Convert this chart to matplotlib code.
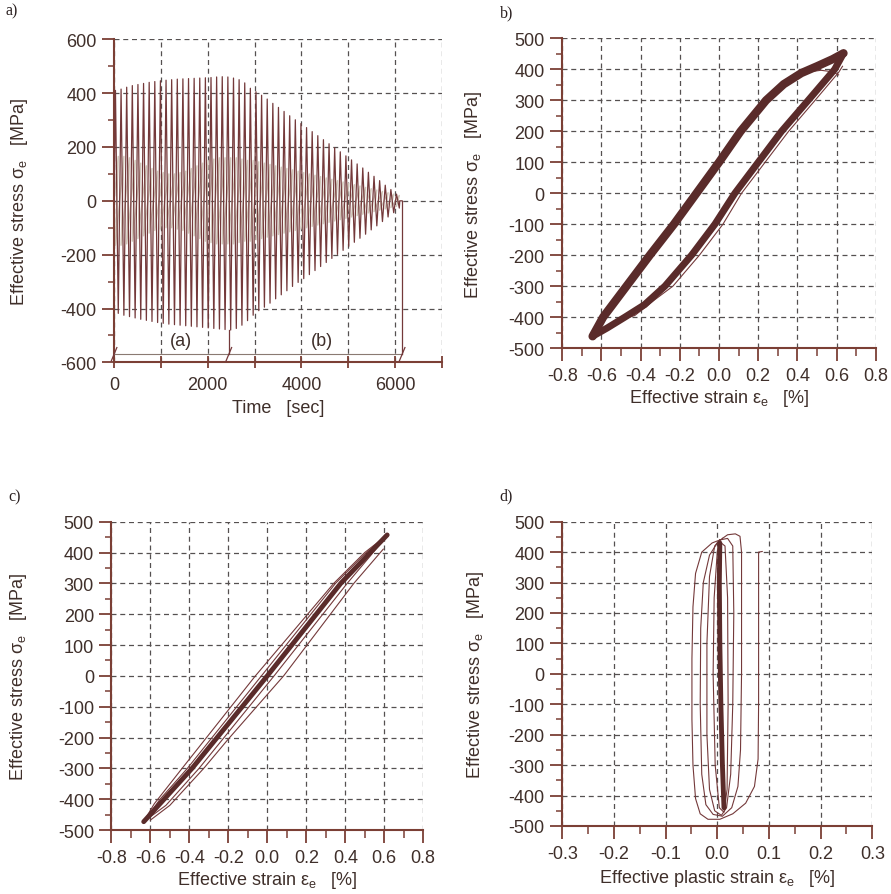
import matplotlib.pyplot as plt
from matplotlib.ticker import MultipleLocator, FuncFormatter

plt.rcParams['font.family'] = ['Liberation Sans', 'DejaVu Sans']
plt.rcParams['axes.unicode_minus'] = False

# ---------------- panel a: stress history (one max and one min per cycle)
peak_time = [30, 150, 270, 390, 510, 630, 750, 870, 990, 1110,
             1230, 1350, 1470, 1590, 1710, 1830, 1950, 2070, 2190, 2310,
             2430, 2550, 2670, 2790, 2910, 3030, 3150, 3270, 3390, 3510,
             3630, 3750, 3870, 3990, 4110, 4230, 4350, 4470, 4590, 4710,
             4830, 4950, 5070, 5190, 5310, 5430, 5550, 5670, 5790, 5910, 6030]
peak_max = [410, 415, 422, 428, 432, 436, 440, 443, 446, 448,
            450, 452, 453, 454, 455, 456, 457, 458, 460, 461,
            460, 456, 450, 438, 418, 405, 392, 378, 362, 347,
            332, 316, 301, 287, 272, 257, 242, 227, 212, 197,
            182, 167, 152, 137, 122, 106, 91, 75, 58, 42, 25]
trough_time = [90, 210, 330, 450, 570, 690, 810, 930, 1050, 1170,
               1290, 1410, 1530, 1650, 1770, 1890, 2010, 2130, 2250, 2370,
               2490, 2610, 2730, 2850, 2970, 3090, 3210, 3330, 3450, 3570,
               3690, 3810, 3930, 4050, 4170, 4290, 4410, 4530, 4650, 4770,
               4890, 5010, 5130, 5250, 5370, 5490, 5610, 5730, 5850, 5970, 6090]
peak_min = [-418, -425, -430, -435, -440, -444, -448, -452, -455, -458,
            -460, -462, -464, -466, -468, -470, -472, -474, -476, -478,
            -480, -474, -462, -445, -425, -408, -395, -380, -364, -349,
            -334, -318, -303, -289, -274, -259, -244, -229, -214, -199,
            -184, -169, -154, -139, -124, -108, -93, -77, -60, -44, -27]
# faint second component seen behind the main signal
inner_amp = [165, 165, 160, 150, 140, 130, 120, 110, 105, 100,
             100, 105, 110, 120, 130, 140, 150, 155, 160, 160,
             160, 160, 155, 150, 150, 145, 140, 135, 130, 125,
             120, 115, 110, 105, 100, 95, 90, 85, 80, 75,
             70, 65, 60, 55, 50, 45, 40, 35, 30, 25, 20]
end_time = [6100, 6150]
phase_time = [0, 2450, 6150]
phase_names = ['(a)', '(b)']
phase_label_time = [1420, 4440]
bracket_stress = -570

# ---------------- panel b: loops in phase (a)
b_up_strain = [-0.645, -0.591, -0.472, -0.353, -0.23, -0.115, 0.0, 0.11, 0.24, 0.33, 0.42, 0.50, 0.58, 0.635]
b_up_stress = [-462, -400, -300, -200, -100, 0, 100, 200, 300, 352, 388, 410, 433, 452]
b_lo_strain = [0.635, 0.59, 0.455, 0.319, 0.20, 0.081, -0.021, -0.14, -0.276, -0.38, -0.48, -0.57, -0.645]
b_lo_stress = [452, 400, 300, 200, 100, 0, -100, -200, -300, -360, -400, -435, -462]
b_thin_strain = [-0.52, -0.43, -0.33, -0.235, -0.10, 0.02, 0.115, 0.235, 0.355, 0.49, 0.61, 0.63]
b_thin_stress = [-412, -395, -345, -300, -200, -100, 0, 100, 200, 300, 390, 410]
b_top_strain = [0.36, 0.44, 0.52, 0.58, 0.61]
b_top_stress = [362, 390, 397, 392, 382]

# ---------------- panel c: loops in phase (b)
c_mid_strain = [-0.634, -0.386, 0.0, 0.377, 0.615]
c_mid_stress = [-473, -300, 0, 300, 457]
c_loop1_strain = [-0.634, -0.55, -0.41, -0.03, 0.35, 0.50, 0.615,
                  0.53, 0.41, 0.035, -0.35, -0.52, -0.634]
c_loop1_stress = [-473, -400, -300, 0, 300, 395, 457,
                  390, 300, 0, -300, -420, -473]
c_loop2_strain = [-0.634, -0.58, -0.437, -0.061, 0.341, 0.50, 0.615]
c_loop2_stress = [-473, -415, -300, 0, 300, 400, 457]
c_outer_strain = [-0.60, -0.50, -0.326, -0.20, 0.084, 0.444, 0.595]
c_outer_stress = [-468, -420, -300, -205, 0, 300, 411]

# ---------------- panel d: stress vs plastic strain
d_loop1_strain = [0.005, -0.01, -0.03, -0.042, -0.047, -0.049, -0.049, -0.047, -0.042, -0.033,
                  -0.018, 0.005, 0.03, 0.055, 0.072, 0.079, 0.08, 0.08, 0.08, 0.08, 0.087]
d_loop1_stress = [440, 430, 400, 330, 220, 50, -150, -300, -410, -460,
                  -478, -478, -460, -425, -370, -280, -100, 100, 300, 400, 402]
d_loop2_strain = [0.01, 0.02, 0.035, 0.044, 0.047, 0.047, 0.045, 0.04, 0.028, 0.01,
                  -0.008, -0.022, -0.03, -0.033, -0.032, -0.027, -0.015, 0.0, 0.01]
d_loop2_stress = [445, 457, 460, 452, 400, 0, -250, -370, -440, -468,
                  -462, -430, -330, -100, 150, 300, 390, 430, 445]
d_loop3_strain = [0.005, 0.02, 0.03, 0.032, 0.03, 0.026, 0.018, 0.008, -0.005, -0.015,
                  -0.02, -0.02, -0.015, -0.005, 0.005]
d_loop3_stress = [440, 445, 420, 200, -100, -330, -440, -465, -450, -380,
                  -200, 100, 320, 420, 440]
d_loop4_strain = [0.004, 0.015, 0.02, 0.021, 0.019, 0.013, 0.004, -0.004, -0.008, -0.006, 0.0, 0.004]
d_loop4_stress = [435, 420, 250, -100, -380, -455, -440, -300, 0, 250, 400, 435]
d_mid_strain = [0.005, 0.004, 0.005, 0.007, 0.010, 0.013]
d_mid_stress = [430, 300, 100, -100, -300, -440]

spine_c = '#7b3f35'
text_c = '#3f2f2a'
grid_c = '#555050'
line_c = '#74393a'
band_c = '#5a2b2a'
fs = 13

fig = plt.figure(figsize=(8.91, 8.95), dpi=100)


def style(ax, xlim, ylim, xmaj, xmin, ymaj, ymin, xdir='out'):
    ax.set_xlim(xlim)
    ax.set_ylim(ylim)
    ax.xaxis.set_major_locator(MultipleLocator(xmaj))
    ax.yaxis.set_major_locator(MultipleLocator(ymaj))
    if xmin:
        ax.xaxis.set_minor_locator(MultipleLocator(xmin))
    ax.yaxis.set_minor_locator(MultipleLocator(ymin))
    for s in ['top', 'right']:
        ax.spines[s].set_visible(False)
    for s in ['left', 'bottom']:
        ax.spines[s].set_color(spine_c)
        ax.spines[s].set_linewidth(1.5)
    ax.grid(True, which='major', color=grid_c, linestyle=(0, (4, 3)), linewidth=0.9)
    ax.tick_params(axis='y', which='major', direction='out', length=8.5, width=1.3,
                   color=spine_c, labelcolor=text_c, labelsize=fs, pad=4)
    ax.tick_params(axis='y', which='minor', direction='out', length=4.5, width=1.1, color=spine_c)
    ax.tick_params(axis='x', which='major', direction=xdir, length=9, width=1.3,
                   color=spine_c, labelcolor=text_c, labelsize=fs, pad=5)
    ax.tick_params(axis='x', which='minor', direction='out', length=5.5, width=1.1, color=spine_c)
    for t in ax.get_xticklines() + ax.get_yticklines():
        t.set_clip_on(False)


def labels(ax, xtext, ytext, xl_y, yl_x):
    ax.set_xlabel(xtext, fontsize=fs, color=text_c)
    ax.set_ylabel(ytext, fontsize=fs, color=text_c)
    ax.xaxis.set_label_coords(0.5, xl_y)
    ax.yaxis.set_label_coords(yl_x, 0.5)


ylab = 'Effective stress σ$_\\mathregular{e}$   [MPa]'
xlab = 'Effective strain ε$_\\mathregular{e}$   [%]'

# ---------------- a)
ax = fig.add_axes([0.128, 0.594, 0.368, 0.361])
style(ax, (0, 7000), (-600, 600), 1000, None, 200, 100, xdir='inout')
ax.xaxis.set_major_formatter(FuncFormatter(lambda v, p: '%d' % v if v % 2000 == 0 else ''))

in_t, in_s = [0], [0]
for k in range(len(peak_time)):
    in_t += [trough_time[k], peak_time[k]]
    in_s += [inner_amp[k], -inner_amp[k]]
ax.plot(in_t, in_s, color='#cfc6b8', lw=1.0, zorder=2)

sig_t, sig_s = [0], [0]
for k in range(len(peak_time)):
    sig_t += [peak_time[k], trough_time[k]]
    sig_s += [peak_max[k], peak_min[k]]
sig_t += end_time
sig_s += [0, 0]
ax.plot(sig_t, sig_s, color=line_c, lw=0.9, zorder=3)

ax.plot([phase_time[0], phase_time[-1]], [bracket_stress, bracket_stress], color='#8a7a72', lw=0.8, zorder=3)
ax.plot([phase_time[1], phase_time[1]], [peak_min[20], bracket_stress], color=line_c, lw=0.9, zorder=3)
ax.plot([phase_time[2], phase_time[2]], [0, bracket_stress], color=line_c, lw=0.9, zorder=3)
for pt in phase_time:
    ax.plot([pt - 60, pt + 60], [bracket_stress - 25, bracket_stress + 25], color=line_c, lw=0.9,
            zorder=4, clip_on=False)
for name, pt in zip(phase_names, phase_label_time):
    ax.text(pt, -520, name, ha='center', va='center', fontsize=fs, color=text_c)
labels(ax, 'Time   [sec]', ylab, -0.113, -0.256)

# ---------------- b)
ax = fig.add_axes([0.631, 0.610, 0.352, 0.346])
style(ax, (-0.8, 0.8), (-500, 500), 0.2, 0.1, 100, 50)
ax.xaxis.set_major_formatter(FuncFormatter(lambda v, p: '%.1f' % v))
ax.plot(b_thin_strain, b_thin_stress, color=line_c, lw=0.8, zorder=3)
ax.plot(b_top_strain, b_top_stress, color=line_c, lw=0.8, zorder=3)
ax.plot(b_up_strain, b_up_stress, color=band_c, lw=6, solid_joinstyle='round', solid_capstyle='round', zorder=4)
ax.plot(b_lo_strain, b_lo_stress, color=band_c, lw=5, solid_joinstyle='round', solid_capstyle='round', zorder=4)
labels(ax, xlab, ylab, -0.126, -0.248)

# ---------------- c)
ax = fig.add_axes([0.125, 0.0715, 0.350, 0.3445])
style(ax, (-0.8, 0.8), (-500, 500), 0.2, 0.1, 100, 50)
ax.xaxis.set_major_formatter(FuncFormatter(lambda v, p: '%.1f' % v))
ax.plot(c_outer_strain, c_outer_stress, color=line_c, lw=0.8, zorder=3)
ax.plot(c_loop2_strain, c_loop2_stress, color=line_c, lw=0.8, zorder=3)
ax.plot(c_loop1_strain, c_loop1_stress, color=line_c, lw=0.8, zorder=3)
ax.plot(c_mid_strain, c_mid_stress, color=band_c, lw=3.5, solid_capstyle='round', zorder=4)
labels(ax, xlab, ylab, -0.127, -0.264)

# ---------------- d)
ax = fig.add_axes([0.631, 0.076, 0.348, 0.340])
style(ax, (-0.3, 0.3), (-500, 500), 0.1, 0.05, 100, 50)
ax.xaxis.set_major_formatter(FuncFormatter(lambda v, p: '%.1f' % v))
for xs, ys in [(d_loop1_strain, d_loop1_stress), (d_loop2_strain, d_loop2_stress),
               (d_loop3_strain, d_loop3_stress), (d_loop4_strain, d_loop4_stress)]:
    ax.plot(xs, ys, color=line_c, lw=0.8, zorder=3)
ax.plot(d_mid_strain, d_mid_stress, color=band_c, lw=3.5, solid_capstyle='round', zorder=4)
labels(ax, 'Effective plastic strain ε$_\\mathregular{e}$   [%]', ylab, -0.135, -0.245)

for lab, x, y in [('a)', 0.006, 0.987), ('b)', 0.561, 0.985), ('c)', 0.009, 0.444), ('d)', 0.561, 0.445)]:
    fig.text(x, y, lab, family='Liberation Serif', fontsize=11.5, color='#2a2020', va='center')

fig.savefig('out.png', dpi=100)
